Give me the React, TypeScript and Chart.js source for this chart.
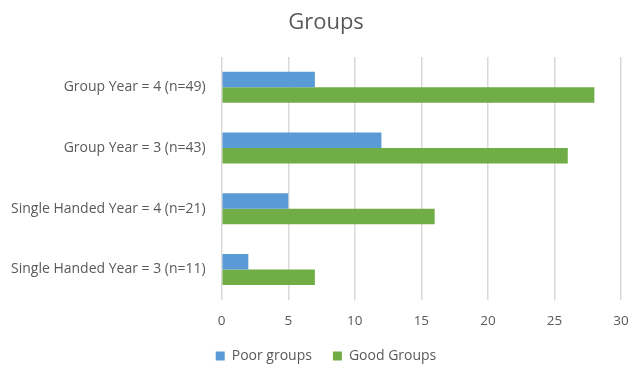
import React, { useEffect, useRef } from "react";
import { Chart, registerables } from "chart.js";

Chart.register(...registerables);

const categories = [
  "Group Year = 4 (n=49)",
  "Group Year = 3 (n=43)",
  "Single Handed Year = 4 (n=21)",
  "Single Handed Year = 3 (n=11)",
];
const poorGroups = [7, 12, 5, 2];
const goodGroups = [28, 26, 16, 7];

const FONT = "'Open Sans', 'Liberation Sans', sans-serif";
const TEXT = "#595959";

export default function App() {
  const ref = useRef<HTMLCanvasElement | null>(null);

  useEffect(() => {
    if (!ref.current) return;
    const chart = new Chart(ref.current, {
      type: "bar",
      data: {
        labels: categories,
        datasets: [
          {
            label: "Poor groups",
            data: poorGroups,
            backgroundColor: "#5B9BD5",
            barPercentage: 1,
            categoryPercentage: 0.51,
          },
          {
            label: "Good Groups",
            data: goodGroups,
            backgroundColor: "#70AD47",
            barPercentage: 1,
            categoryPercentage: 0.51,
          },
        ],
      },
      options: {
        indexAxis: "y",
        responsive: false,
        animation: false,
        layout: { padding: { left: 8, right: -14, top: 6, bottom: -5 } },
        scales: {
          x: {
            min: 0,
            max: 30,
            ticks: {
              stepSize: 5,
              color: TEXT,
              font: { family: FONT, size: 13.5 },
              padding: 13,
            },
            grid: { color: "#d9d9d9", lineWidth: 1.5, drawTicks: false },
            border: { display: false },
            afterFit: (scale: any) => {
              // tighter axis band and let the last tick label run to the edge
              scale.height -= 14;
              scale.paddingRight = 9;
            },
          },
          y: {
            ticks: {
              color: TEXT,
              font: { family: FONT, size: 14 },
              padding: 16,
            },
            grid: { display: false, drawTicks: false },
            border: { display: false },
            afterFit: (scale: any) => {
              scale.width -= 13;
            },
          },
        },
        plugins: {
          title: {
            display: true,
            text: "Groups",
            color: TEXT,
            font: { family: FONT, size: 22, weight: "normal" },
            padding: { top: 4, bottom: 20.5 },
          },
          legend: {
            position: "bottom",
            labels: {
              color: TEXT,
              font: { family: FONT, size: 14 },
              boxWidth: 9,
              boxHeight: 9,
              padding: 21,
            },
          },
          tooltip: { enabled: false },
        },
      },
    });
    return () => chart.destroy();
  }, []);

  return (
    <div style={{ position: "absolute", left: 0, top: 0, width: 630, height: 368, background: "#fff" }}>
      <canvas ref={ref} width={630} height={368} />
    </div>
  );
}
